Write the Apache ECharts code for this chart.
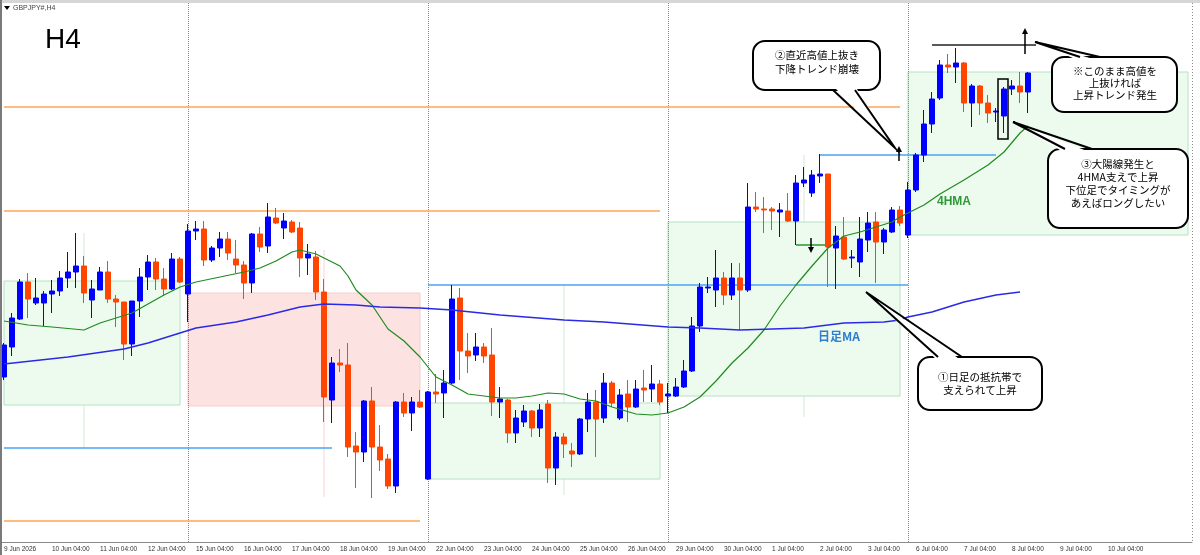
<!DOCTYPE html>
<html>
<head>
<meta charset="utf-8">
<script src="https://cdn.jsdelivr.net/npm/echarts@6/dist/echarts.min.js"></script>
<style>
html,body{margin:0;padding:0;background:#fff;}
#chart{width:1200px;height:555px;}
</style>
</head>
<body>
<div id="chart"></div>
<script>
// GBPJPY# H4 足（2026/6/9 〜 7/8）
var dayLabels = ['9 Jun','10 Jun','11 Jun','12 Jun','15 Jun','16 Jun','17 Jun','18 Jun','19 Jun',
  '22 Jun','23 Jun','24 Jun','25 Jun','26 Jun','29 Jun','30 Jun','1 Jul','2 Jul','3 Jul',
  '6 Jul','7 Jul','8 Jul','9 Jul','10 Jul','13 Jul'];
var hourLabels = ['00:00','04:00','08:00','12:00','16:00','20:00'];

// 四本値
var opens = [211.65,211.95,212.23,212.60,212.39,212.39,212.48,212.51,212.64,212.70,
  212.76,212.42,212.52,212.70,212.43,212.40,211.98,212.41,212.65,212.80,
  212.63,212.53,212.83,212.48,213.11,213.13,212.82,212.94,213.03,212.83,
  212.77,212.59,213.08,212.96,213.24,213.14,213.20,213.14,212.84,212.85,
  212.50,211.42,211.79,211.77,210.96,210.90,211.41,210.95,210.83,210.56,
  211.40,211.29,211.40,210.63,211.50,211.49,211.59,212.44,211.91,211.87,
  211.95,211.87,211.40,211.42,211.09,211.20,211.31,211.14,211.38,210.74,
  211.05,210.91,210.88,211.23,211.40,211.24,211.59,211.24,211.48,211.35,
  211.54,211.53,211.58,211.46,211.46,211.55,211.71,212.16,212.54,212.52,
  212.64,212.47,212.64,212.52,213.35,213.33,213.33,213.30,213.31,213.21,
  213.59,213.49,213.66,213.68,212.94,213.05,212.84,212.80,213.02,213.20,
  213.00,213.10,213.32,213.07,213.52,213.87,214.18,214.44,214.77,214.75,
  214.79,214.39,214.56,214.39,214.30,214.26,214.53,214.56,214.50];
var closes = [211.97,212.24,212.60,212.43,212.44,212.48,212.51,212.64,212.70,212.76,
  212.49,212.53,212.70,212.43,212.40,211.98,212.41,212.65,212.80,212.63,
  212.53,212.83,212.60,213.11,213.13,212.82,212.94,213.03,212.89,212.77,
  212.59,213.08,212.95,213.25,213.19,213.21,213.10,212.84,212.88,212.50,
  211.45,211.79,211.77,210.95,210.90,211.41,210.95,210.82,210.56,211.40,
  211.29,211.40,211.35,211.50,211.48,211.59,212.43,211.91,211.86,211.95,
  211.86,211.40,211.43,211.09,211.24,211.31,211.14,211.32,210.74,211.05,
  210.98,210.88,211.23,211.40,211.23,211.59,211.39,211.47,211.35,211.53,
  211.52,211.58,211.40,211.48,211.55,211.71,212.16,212.55,212.55,212.64,
  212.47,212.64,212.52,213.35,213.33,213.32,213.31,213.32,213.21,213.59,
  213.62,213.67,213.68,212.95,213.06,212.83,212.85,213.03,213.19,213.00,
  213.12,213.32,213.19,213.52,213.87,214.18,214.43,214.77,214.75,214.79,
  214.39,214.56,214.39,214.29,214.31,214.53,214.56,214.50,214.69];
var lows = [211.62,211.86,212.22,212.24,212.37,212.16,212.29,212.46,212.54,212.54,
  212.39,212.24,212.52,212.39,212.15,211.82,211.86,212.25,212.52,212.52,
  212.46,212.52,212.59,212.20,213.02,212.76,212.80,212.85,212.82,212.69,
  212.43,212.49,212.90,212.89,213.18,213.03,213.09,212.65,212.67,212.42,
  211.20,211.19,211.70,210.85,210.54,210.80,210.44,210.71,210.53,210.49,
  211.25,211.11,211.34,210.62,211.39,211.24,211.58,211.62,211.69,211.81,
  211.79,211.26,211.24,210.99,210.99,211.15,211.05,211.05,210.59,210.57,
  210.84,210.75,210.87,211.10,210.85,211.19,211.35,211.22,211.20,211.34,
  211.40,211.40,211.37,211.29,211.45,211.54,211.70,212.10,212.49,212.35,
  212.37,212.42,212.12,212.50,213.30,213.09,213.12,213.05,213.20,212.97,
  213.55,213.45,213.59,212.55,212.53,212.82,212.74,212.65,212.90,212.59,
  212.88,213.09,213.16,213.04,213.50,213.80,214.09,214.42,214.69,214.59,
  214.30,214.15,214.27,214.19,214.20,214.09,214.47,214.39,214.29];
var highs = [211.99,212.29,212.63,212.69,212.64,212.51,212.62,212.71,212.90,213.09,
  212.86,212.62,212.75,212.81,212.47,212.40,212.41,212.74,212.87,212.84,
  212.74,212.89,212.85,213.18,213.21,213.21,212.96,213.10,213.10,213.02,
  212.81,213.09,213.15,213.39,213.34,213.29,213.22,213.20,212.98,212.91,
  212.63,211.85,211.93,211.99,211.10,211.42,211.55,211.17,210.88,211.41,
  211.49,211.45,211.52,211.51,211.68,211.72,212.57,212.54,212.09,212.09,
  211.99,212.14,211.55,211.43,211.32,211.37,211.32,211.38,211.42,211.10,
  211.09,210.99,211.24,211.49,211.52,211.69,211.61,211.53,211.62,211.62,
  211.72,211.77,211.62,211.59,211.64,211.82,212.25,212.59,212.65,212.92,
  212.70,212.79,212.79,213.59,213.50,213.45,213.35,213.39,213.49,213.67,
  213.75,213.72,213.88,213.68,213.16,213.25,212.92,213.25,213.30,213.30,
  213.14,213.35,213.36,213.60,213.89,214.32,214.50,214.82,214.88,214.94,
  214.80,214.58,214.57,214.47,214.34,214.55,214.62,214.70,214.70];

// 4時間足MA / 日足MA  [足番号, 値]
var ma4h = [[0,212.21],[3,212.17],[6,212.15],[10,212.12],[12,212.19],[16,212.29],[18,212.38],
  [20,212.47],[22,212.55],[24,212.60],[27,212.65],[30,212.70],[32,212.74],[34,212.81],[36,212.90],
  [37,212.92],[39,212.88],[42,212.76],[43,212.66],[44,212.52],[46,212.37],[48,212.13],[50,212.01],
  [52,211.85],[54,211.65],[56,211.57],[58,211.48],[60,211.46],[62,211.44],[64,211.44],[66,211.46],
  [68,211.49],[70,211.48],[72,211.43],[74,211.41],[76,211.35],[79,211.28],[81,211.27],[83,211.29],
  [85,211.35],[87,211.45],[89,211.61],[91,211.79],[93,211.94],[95,212.12],[97,212.36],[99,212.57],
  [101,212.76],[103,212.94],[105,213.06],[107,213.10],[109,213.15],[111,213.20],[112,213.25],
  [115,213.37],[117,213.48],[120,213.62],[123,213.77],[125,213.90],[127,214.09],[128,214.16]];
var maDay = [[0,211.78],[8,211.85],[15,211.93],[18,211.99],[22,212.09],[24,212.14],[29,212.20],
  [33,212.27],[37,212.35],[40,212.38],[44,212.37],[47,212.35],[52,212.34],[56,212.32],[62,212.27],
  [70,212.22],[75,212.20],[83,212.15],[87,212.14],[92,212.12],[100,212.14],[105,212.19],[110,212.20],
  [112,212.22],[113,212.25],[116,212.30],[120,212.40],[124,212.47],[127,212.50]];

// 水平線 [値, 開始足, 終了足]
var orangeLevels = [[214.35,0,112],[213.31,0,82],[210.21,0,52]];
var blueLevels = [[210.94,0,41],[212.57,53,113],[213.87,102,124]];
var greenLevels = [[212.97,99,103]];
var blackLevels = [[214.97,116,129]];
// 週ごとのレンジ [開始足, 終了足, 上限, 下限, 種類]
var weekBoxes = [[0,22,212.61,211.37,'g'],[23,52,212.49,211.36,'p'],[53,82,211.39,210.63,'g'],
  [83,112,213.20,211.46,'g'],[113,148,214.70,213.07,'g']];
var weekStarts = [23,53,83,113];
var faintLines = [[10,213.09,210.94,'#cfe9d6'],[70,212.57,210.47,'#cfe9d6'],
  [100,213.87,211.25,'#cfe9d6'],[40,212.92,210.45,'#f7d4d4']];

var categories = [];
dayLabels.forEach(function (d, di) {
  hourLabels.forEach(function (h, hi) {
    if (di === 0 && hi === 0) return;
    categories.push(d + ' ' + h);
  });
});
categories = categories.slice(0, 149);
categories[0] = '9 Jun 2026';

function showLabel(idx) {
  return idx === 0 || (idx % 6 === 0 && idx <= 138);
}

var candles = opens.map(function (o, i) {
  return [o, closes[i], lows[i], highs[i]];
});

var series = [];
series.push({
  type: 'candlestick',
  data: candles,
  barWidth: 5,
  z: 4,
  silent: true,
  itemStyle: {color: '#0000ff', color0: '#ff4500', borderColor: '#0000ff', borderColor0: '#ff4500', borderWidth: 1},
  markArea: {
    silent: true,
    data: weekBoxes.map(function (b) {
      var green = b[4] === 'g';
      return [{xAxis: b[0], yAxis: b[2], itemStyle: {
          color: green ? '#edfbef' : '#fde2e2',
          borderColor: green ? '#b4e2c2' : '#f7cdcd', borderWidth: 1}},
        {xAxis: b[1], yAxis: b[3]}];
    })
  },
  markLine: {
    silent: true, z: 2, symbol: 'none', label: {show: false},
    lineStyle: {color: '#8a8a8a', type: 'dotted', width: 1},
    data: weekStarts.map(function (w) { return {xAxis: w}; })
  }
});

function levelSeries(list, color, width, z, sym) {
  list.forEach(function (l) {
    series.push({
      type: 'line', data: [[l[1], l[0]], [l[2], l[0]]], z: z, silent: true,
      symbol: sym || 'none', symbolSize: 4, showSymbol: !!sym,
      itemStyle: {color: color},
      lineStyle: {color: color, width: width}
    });
  });
}
levelSeries(orangeLevels, '#ffa650', 1.6, 3);
levelSeries(blueLevels, '#4aa3f5', 1.6, 3);
levelSeries(greenLevels, '#2a942a', 1.6, 3);
levelSeries(blackLevels, '#222222', 1.6, 6);

faintLines.forEach(function (f) {
  series.push({
    type: 'line', data: [[f[0], f[1]], [f[0], f[2]]], z: 0, silent: true, symbol: 'none',
    lineStyle: {color: f[3], width: 1}
  });
});

series.push({type: 'line', data: ma4h, symbol: 'none', z: 5, silent: true,
  lineStyle: {color: '#1f8a1f', width: 1.2}});
series.push({type: 'line', data: maDay, symbol: 'none', z: 5, silent: true,
  lineStyle: {color: '#2a2ae6', width: 1.5}});

// 吹き出し
var CJK = '"Noto Sans CJK JP", sans-serif';
function bubble(b) {
  return [
    {type: 'rect', z: 100, shape: {x: b.x, y: b.y, width: b.w, height: b.h, r: 12},
      style: {fill: '#fff', stroke: '#000', lineWidth: 2}},
    {type: 'polygon', z: 101, shape: {points: b.fill}, style: {fill: '#fff'}},
    {type: 'polyline', z: 102, shape: {points: b.tail}, style: {stroke: '#000', lineWidth: 2, fill: null}},
    {type: 'text', z: 103, style: {text: b.text, x: b.tx, y: b.ty, align: 'center', verticalAlign: 'middle',
      textAlign: 'center', textVerticalAlign: 'middle',
      font: '10.5px ' + CJK, lineHeight: b.lh, fill: '#000'}}
  ];
}
function arrow(x, y1, y2) {
  var dir = y2 < y1 ? -1 : 1;
  return [
    {type: 'line', z: 104, shape: {x1: x, y1: y1, x2: x, y2: y2 - dir * 4}, style: {stroke: '#000', lineWidth: 1.5}},
    {type: 'polygon', z: 104, shape: {points: [[x - 3, y2 - dir * 6], [x, y2], [x + 3, y2 - dir * 6]]}, style: {fill: '#000'}}
  ];
}

var graphics = [
  {type: 'rect', z: 90, shape: {x: 0, y: 0, width: 1200, height: 3}, style: {fill: '#d6d6d6'}},
  {type: 'rect', z: 90, shape: {x: 0, y: 0, width: 2, height: 555}, style: {fill: '#7a7a7a'}},
  {type: 'line', z: 90, shape: {x1: 1192.5, y1: 3, x2: 1192.5, y2: 542}, style: {stroke: '#8a8a8a', lineDash: [1, 2]}},
  {type: 'polygon', z: 100, shape: {points: [[4, 6], [10, 6], [7, 10]]}, style: {fill: '#000'}},
  {type: 'text', z: 100, style: {text: 'GBPJPY#,H4', x: 13, y: 8, verticalAlign: 'middle', textVerticalAlign: 'middle',
    font: '7px "Liberation Sans"', fill: '#444'}},
  {type: 'text', z: 100, style: {text: 'H4', x: 45, y: 40, verticalAlign: 'middle', textVerticalAlign: 'middle',
    font: '28px "Liberation Sans"', fill: '#000'}},
  {type: 'text', z: 100, style: {text: '4HMA', x: 937, y: 202, verticalAlign: 'middle', textVerticalAlign: 'middle',
    font: 'bold 12px "Liberation Sans"', fill: '#2e9a35'}},
  {type: 'text', z: 100, style: {text: '日足MA', x: 818, y: 336, verticalAlign: 'middle', textVerticalAlign: 'middle',
    font: 'bold 12px ' + CJK, fill: '#2f7fcf'}},
  {type: 'rect', z: 104, shape: {x: 998, y: 79, width: 10, height: 60}, style: {fill: null, stroke: '#000', lineWidth: 1.5}}
];
graphics = graphics
  .concat(arrow(899, 161, 146))
  .concat(arrow(811, 238, 253))
  .concat(arrow(1025, 54, 28))
  .concat(bubble({x: 753, y: 41, w: 127, h: 49, text: '②直近高値上抜き\n下降トレンド崩壊', tx: 817, ty: 62, lh: 14,
    tail: [[833, 90], [895, 148], [855, 90]], fill: [[833, 86], [895, 148], [855, 86]]}))
  .concat(bubble({x: 1052, y: 57, w: 125, h: 55, text: '※このまま高値を\n上抜ければ\n上昇トレンド発生', tx: 1115, ty: 83, lh: 12,
    tail: [[1080, 57], [1035, 42], [1100, 57]], fill: [[1080, 61], [1035, 42], [1100, 61]]}))
  .concat(bubble({x: 1048, y: 149, w: 140, h: 79, text: '③大陽線発生と\n4HMA支えで上昇\n下位足でタイミングが\nあえばロングしたい',
    tx: 1118, ty: 184, lh: 13,
    tail: [[1065, 149], [1013, 122], [1092, 149]], fill: [[1065, 153], [1013, 122], [1092, 153]]}))
  .concat(bubble({x: 918, y: 357, w: 124, h: 53, text: '①日足の抵抗帯で\n支えられて上昇', tx: 980, ty: 384, lh: 13,
    tail: [[938, 357], [866, 292], [962, 357]], fill: [[938, 361], [866, 292], [962, 361]]}));

var chart = echarts.init(document.getElementById('chart'));
chart.setOption({
  animation: false,
  backgroundColor: '#fff',
  grid: {left: 0, right: 8, top: 3, bottom: 13},
  xAxis: {
    type: 'category', data: categories, boundaryGap: true,
    axisLine: {lineStyle: {color: '#8a8a8a'}},
    axisTick: {alignWithLabel: true, interval: showLabel, length: 3, lineStyle: {color: '#444'}},
    axisLabel: {interval: showLabel, align: 'left', margin: 4, fontSize: 6.5, color: '#333',
      fontFamily: 'Liberation Sans'},
    splitLine: {show: false}
  },
  yAxis: {type: 'value', min: 210, max: 215.39, show: false},
  series: series,
  graphic: {elements: graphics}
});
</script>
</body>
</html>
